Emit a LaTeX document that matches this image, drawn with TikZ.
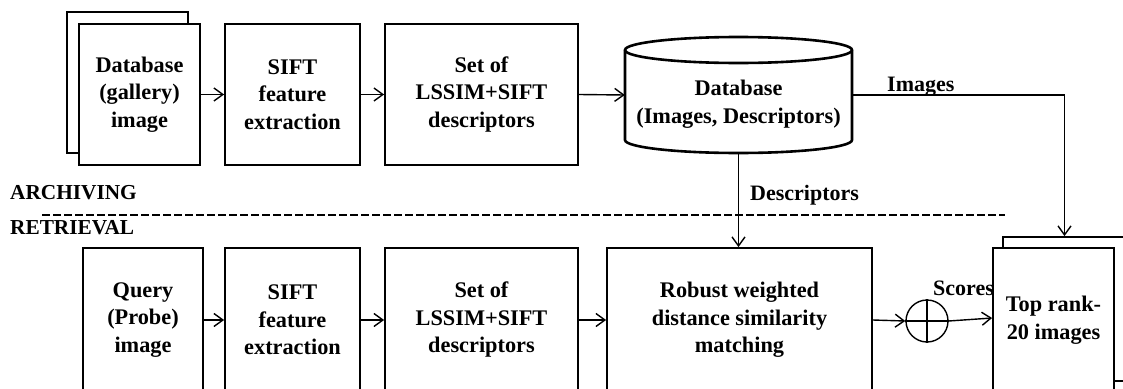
\documentclass[tikz,border=0pt]{standalone}
\usepackage{fontspec}
\setmainfont{Liberation Serif}
\usetikzlibrary{arrows.meta}
\begin{document}
\begin{tikzpicture}[x=1pt,y=-1pt,
  box/.style={draw, line width=1.8pt, fill=white, inner sep=0pt, align=center,
    font=\bfseries\fontsize{22.3}{27.5}\selectfont},
  txt/.style={inner sep=0pt, align=center, font=\bfseries\fontsize{22.3}{27.5}\selectfont},
  conn/.style={line width=1.4pt, -{Straight Barb[length=9pt,width=13pt,line width=1.4pt]}},
  lab/.style={inner sep=0pt, anchor=base west, font=\bfseries\fontsize{22}{27}\selectfont},
  sec/.style={inner sep=0pt, anchor=base west, font=\bfseries\fontsize{21.3}{27}\selectfont},
  cyl/.style={line width=2.6pt}]
\useasboundingbox (0,0) rectangle (1123,388);

% ---------- archiving row ----------
\node[box, minimum width=121, minimum height=141] (dbback) at (127.5,82.5) {};
\node[box, minimum width=121, minimum height=141] (dbfront) at (139.5,94.5) {Database\\(gallery)\\image};
\node[box, minimum width=135, minimum height=141] (sifta) at (292.5,94.5) {SIFT\\feature\\extraction};
\node[box, minimum width=193, minimum height=141] (seta) at (481.5,94.5) {Set of\\LSSIM+SIFT\\descriptors};

% database cylinder
\node[inner sep=0pt, minimum width=227, minimum height=116] (db) at (738.5,95) {};
\draw[cyl, fill=white] (625,50) -- (625,140)
  arc[start angle=180, end angle=360, x radius=113.5pt, y radius=13pt]
  -- (852,50) arc[start angle=0, end angle=180, x radius=113.5pt, y radius=13pt] -- cycle;
\draw[cyl] (625,50) arc[start angle=180, end angle=360, x radius=113.5pt, y radius=13pt];
\node[txt] (dbtext) at (738.5,104) {Database\\(Images, Descriptors)};

\draw[conn] (dbfront.east) -- (sifta.west);
\draw[conn] (sifta.east) -- (seta.west);
\draw[conn] (seta.east) -- (db.west);

% ---------- section labels ----------
\node[sec] (arch) at (10,199) {ARCHIVING};
\node[sec] (retr) at (10,234) {RETRIEVAL};
\draw[line width=1.8pt, dash pattern=on 7.5pt off 3.5pt] (42,215) -- (1005,215);

% ---------- retrieval row ----------
\node[box, minimum width=120, minimum height=144] (query) at (143,320) {Query\\(Probe)\\image};
\node[box, minimum width=135, minimum height=144] (siftb) at (292.5,320) {SIFT\\feature\\extraction};
\node[box, minimum width=193, minimum height=144] (setb) at (481.5,320) {Set of\\LSSIM+SIFT\\descriptors};
\node[box, minimum width=265, minimum height=144] (robust) at (739.5,320) {Robust weighted\\distance similarity\\matching};

\node[draw, circle, line width=1.4pt, minimum size=42pt, inner sep=0pt] (sum) at (927,321) {};
\draw[line width=1.4pt] (sum.north) -- (sum.south) (sum.west) -- (sum.east);

\node[box, minimum width=123, minimum height=144] (trback) at (1064.5,309) {};
\node[box, minimum width=121, minimum height=144] (trfront) at (1053.5,320) {Top rank-\\20 images};

\draw[conn] (query.east) -- (siftb.west);
\draw[conn] (siftb.east) -- (setb.west);
\draw[conn] (setb.east) -- (robust.west);
\draw[conn] (robust.east) -- (sum.west);
\draw[conn] (sum.east) -- ([yshift=2pt]trfront.west);

% ---------- cross connectors ----------
\draw[conn] (db.east) -| (trback.north);
\draw[conn] (db.south) -- (db.south |- robust.north);

\node[lab] (limg) at (887,91) {Images};
\node[lab] (ldesc) at (750,200) {Descriptors};
\node[lab] (lsco) at (933,295) {Scores};
\end{tikzpicture}
\end{document}
